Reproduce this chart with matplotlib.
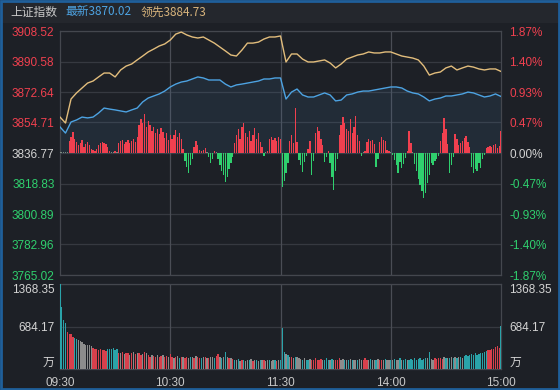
import numpy as np
import matplotlib
matplotlib.use('Agg')
import matplotlib.pyplot as plt
from matplotlib.patches import Rectangle

plt.rcParams['font.family'] = ['Liberation Sans', 'Noto Sans CJK SC', 'DejaVu Sans']

# ---------------- data ----------------
pre_close = 3836.77
price_ticks = [3908.52, 3890.58, 3872.64, 3854.71, 3836.77, 3818.83, 3800.89, 3782.96, 3765.02]
pct_labels = ['1.87%', '1.40%', '0.93%', '0.47%', '0.00%', '-0.47%', '-0.93%', '-1.40%', '-1.87%']
time_ticks = [0, 60, 120, 180, 240]
time_labels = ['09:30', '10:30', '11:30', '14:00', '15:00']

line_minutes = list(range(0, 241, 3))
latest = [3852.1, 3848.5, 3855.0, 3856.2, 3857.9, 3857.4, 3857.9, 3860.3, 3863.2, 3862.6,
          3862.1, 3861.5, 3860.9, 3862.1, 3863.2, 3866.8, 3869.1, 3870.3, 3871.5, 3873.2,
          3875.6, 3877.3, 3878.5, 3879.1, 3880.3, 3881.5, 3880.9, 3879.7, 3879.7, 3879.7,
          3877.3, 3875.6, 3876.8, 3877.3, 3877.9, 3878.5, 3879.1, 3880.3, 3880.3, 3880.9,
          3880.9, 3868.5, 3872.6, 3874.4, 3870.9, 3869.7, 3869.7, 3870.9, 3872.1, 3870.9,
          3867.4, 3867.9, 3870.9, 3871.5, 3872.6, 3873.2, 3873.2, 3873.8, 3874.4, 3875.0,
          3875.6, 3875.6, 3875.0, 3873.2, 3872.1, 3871.5, 3869.7, 3867.4, 3868.5, 3869.1,
          3870.3, 3870.3, 3870.9, 3871.5, 3872.6, 3872.1, 3870.9, 3869.7, 3870.3, 3871.5,
          3870.02]
leading = [3857.9, 3854.4, 3868.5, 3872.1, 3875.0, 3877.9, 3879.1, 3881.5, 3883.8, 3883.8,
           3881.5, 3885.6, 3887.9, 3889.1, 3891.5, 3893.8, 3896.2, 3897.9, 3899.7, 3900.9,
           3903.2, 3906.7, 3907.9, 3906.2, 3905.0, 3904.4, 3905.0, 3903.2, 3901.4, 3899.1,
           3896.8, 3894.4, 3893.8, 3897.3, 3901.4, 3901.4, 3902.0, 3903.8, 3905.0, 3905.0,
           3905.6, 3890.3, 3895.0, 3895.0, 3892.0, 3890.3, 3890.3, 3890.9, 3891.5, 3889.7,
           3886.8, 3889.1, 3892.0, 3893.2, 3894.4, 3895.0, 3896.2, 3895.6, 3895.6, 3896.2,
           3896.2, 3895.0, 3893.8, 3893.2, 3892.6, 3891.5, 3887.9, 3882.6, 3883.8, 3884.4,
           3886.8, 3887.9, 3885.6, 3886.8, 3887.9, 3887.3, 3886.2, 3885.6, 3886.2, 3886.2,
           3884.73]

# per-minute net breadth bars (red up / green down), arbitrary units
breadth = [1, 1, 1, 1, 1, 12, 16, 21, 14, 11,
           8, 10, 13, 6, 9, 11, 8, 4, 3, 2,
           4, 8, 10, 11, 10, 9, 6, 2, 1, 1,
           2, 1, 10, 12, 13, 9, 11, 13, 10, 12,
           14, 11, 16, 28, 34, 30, 39, 26, 32, 28,
           22, 26, 20, 24, 19, 25, 21, 15, 20, 13,
           18, 14, 18, 23, 16, 20, 14, 4, -8, -14,
           -20, -12, -6, 6, 12, 8, 3, 2, 3, 5,
           1, -4, -10, -6, 2, 1, -6, -12, -18, -22,
           -29, -24, -16, -10, -4, 10, 18, 24, 14, 26,
           30, 20, 16, 22, 12, 18, 25, 14, 20, 11,
           6, -3, 1, 2, 14, 16, 13, 15, 12, 16,
           14, -34, -28, -20, -10, 12, 18, 10, 45, 11,
           -7, -12, -19, -9, -3, 4, 12, -22, -8, 20,
           26, 22, 14, 8, -9, -4, 2, -10, -24, -37,
           -18, -6, 18, 28, 36, 30, 24, 22, 34, 20,
           26, 37, 18, 12, -3, 1, 2, 11, 14, 12,
           13, 9, -14, -6, 11, 16, 13, 12, 3, 2,
           1, -2, -7, -12, -20, -9, -15, -11, -5, 2,
           22, 10, 1, -11, -18, -26, -32, -38, -45, -40,
           -30, -22, -10, -12, -8, -6, -3, 12, 20, 35,
           24, 9, -20, -12, -4, 19, 14, 8, 10, 12,
           15, 17, 11, 6, -14, -20, -16, -18, -10, -15,
           -6, -2, 5, 6, 7, 6, 8, 9, 5, 7,
           22]

# per-minute volume (万)
volume = [1368, 1000, 790, 740, 600, 560, 560, 520, 500, 480,
          470, 450, 440, 400, 390, 380, 390, 370, 340, 330,
          320, 310, 320, 300, 310, 290, 320, 330, 320, 340,
          310, 330, 260, 250, 270, 240, 260, 250, 230, 260,
          270, 240, 250, 260, 230, 240, 280, 250, 220, 200,
          230, 210, 200, 220, 190, 210, 230, 200, 210, 190,
          240, 200, 180, 190, 210, 170, 190, 200, 180, 190,
          170, 200, 190, 180, 210, 190, 170, 180, 200, 190,
          180, 170, 190, 200, 180, 210, 240, 190, 180, 200,
          270, 190, 180, 170, 160, 150, 140, 160, 130, 150,
          140, 130, 150, 140, 160, 130, 140, 150, 130, 140,
          150, 140, 130, 150, 140, 130, 140, 150, 130, 140,
          150, 660, 270, 240, 220, 200, 190, 180, 190, 200,
          180, 160, 150, 170, 140, 150, 160, 140, 150, 170,
          150, 140, 160, 150, 140, 170, 150, 140, 160, 150,
          140, 150, 170, 140, 160, 150, 140, 150, 160, 140,
          150, 140, 150, 160, 140, 150, 170, 140, 150, 160,
          150, 140, 150, 160, 140, 150, 140, 160, 150, 140,
          150, 150, 160, 140, 150, 170, 140, 150, 160, 150,
          140, 160, 150, 170, 150, 160, 180, 150, 160, 170,
          180, 270, 160, 150, 170, 160, 180, 170, 160, 190,
          170, 180, 170, 190, 180, 200, 170, 190, 200, 180,
          210, 220, 210, 230, 240, 220, 250, 230, 240, 260,
          250, 270, 290, 310, 300, 330, 320, 350, 370, 340,
          700]
# r = up minute, t = down minute, g = flat minute
vol_dir = ("tttt" "rrrr" "ttggg" "ggggg" "rrrrrrrr" "tttttt"
           "rgrgrrgrgrgrrgrg" "rrgrrgrrgrrgr"
           "rgrgtrgrrgtgrgrrtgrgrggtrrgtgtgrgr"
           "tgtgrtggtgrgtgtgrggtggtrgt"
           "ttgtgrgtgg"
           "gtgttgrrrrrrgtttgtgrrrggtgtgtg"
           "gtggrrrgtggtgrrgtggtgtggtgttgttttttttttg"
           "tggrrrrrgtgtgtgtgtgt"
           "tttttttttttt" "rrrrrrr" "t")
vol_ticks = [1368.35, 684.17, 0]
vol_labels = ['1368.35', '684.17', '万']

# ---------------- style ----------------
BG = '#1d2026'
GRID = '#363940'
VGRID = '#4a4d55'
RED = '#f0404f'
GREEN = '#2fd06e'
WHITE = '#d4d4d4'
BLUE = '#4da3e2'
GOLD = '#e2bd7c'
VRED = '#d8404c'
VTEAL = '#2aa3a9'
VGREY = '#8c8c8c'

W, H = 560, 390
fig = plt.figure(figsize=(5.6, 3.9), dpi=100, facecolor=BG)

def rect(l, t, r, b):
    return [l / W, 1 - b / H, (r - l) / W, (b - t) / H]

# header band
fig.patches.append(Rectangle((0, 1 - 23 / H), 1, 23 / H, transform=fig.transFigure,
                             facecolor='#24272d', edgecolor='none', zorder=0))
# blue frame
fig.patches.append(Rectangle((0.001, 0.002), 0.997, 0.996, transform=fig.transFigure,
                             facecolor='none', edgecolor='#1f5f9a', lw=2.0, zorder=5))

cjk = ['Noto Sans CJK SC', 'DejaVu Sans']
fig.text(10 / W, 1 - 12 / H, '上证指数', color='#c9c9c9', fontsize=8.5, family=cjk, va='center')
fig.text(65 / W, 1 - 12 / H, '最新3870.02', color=BLUE, fontsize=8.5, family=cjk, va='center')
fig.text(141 / W, 1 - 12 / H, '领先3884.73', color='#d8b47c', fontsize=8.5, family=cjk, va='center')

main_rect = rect(60, 31, 501, 275)
ax = fig.add_axes(main_rect, facecolor=BG)
ax.set_xlim(0, 240)
ax.set_ylim(price_ticks[-1], price_ticks[0])
ax.set_yticks(price_ticks)
ax.set_yticklabels(['%.2f' % v for v in price_ticks])
ax.set_xticks([])
for t in price_ticks:
    ax.axhline(t, color=GRID, lw=0.9, zorder=1)
for m in time_ticks[1:4]:
    ax.axvline(m, color=VGRID, lw=0.9, zorder=1)
ax.fill_between(line_minutes, latest, pre_close, color='#4a7fb0', alpha=0.13, lw=0, zorder=2)
for s in ax.spines.values():
    s.set_color('#44474e')
    s.set_linewidth(0.9)
ax.tick_params(axis='y', length=0, pad=4, labelsize=8.5)
for lab, v in zip(ax.get_yticklabels(), price_ticks):
    lab.set_color(RED if v > pre_close else (GREEN if v < pre_close else WHITE))

axr = ax.twinx()
axr.set_ylim(ax.get_ylim())
axr.set_yticks(price_ticks)
axr.set_yticklabels(pct_labels)
axr.tick_params(axis='y', length=0, pad=6, labelsize=8.5)
for lab, v in zip(axr.get_yticklabels(), price_ticks):
    lab.set_color(RED if v > pre_close else (GREEN if v < pre_close else WHITE))
for s in axr.spines.values():
    s.set_visible(False)

# breadth bars
axb = fig.add_axes(main_rect, facecolor='none')
axb.set_xlim(0, 240)
axb.set_ylim(-122, 122)
minutes = np.arange(len(breadth))
bvals = np.array(breadth)
bcols = [RED if v > 1 else (GREEN if v < 0 else '#7a8a80') for v in bvals]
axb.bar(minutes, bvals, width=0.72, color=bcols, lw=0, zorder=3)
axb.axis('off')

# lines
axl = fig.add_axes(main_rect, facecolor='none')
axl.set_xlim(0, 240)
axl.set_ylim(price_ticks[-1], price_ticks[0])
axl.plot(line_minutes, leading, color=GOLD, lw=1.0, zorder=4)
axl.plot(line_minutes, latest, color=BLUE, lw=1.0, zorder=4)
axl.axis('off')

# volume panel
axv = fig.add_axes(rect(60, 284, 501, 369), facecolor=BG)
axv.set_xlim(0, 240)
axv.set_ylim(0, vol_ticks[0])
vm = np.arange(len(volume))
vcols = [{'r': VRED, 't': VTEAL, 'g': VGREY}[c] for c in vol_dir]
axv.bar(vm, volume, width=0.72, color=vcols, lw=0, zorder=3)
for t in vol_ticks[:2]:
    axv.axhline(t, color=GRID, lw=0.9, zorder=1)
for m in time_ticks[1:4]:
    axv.axvline(m, color=VGRID, lw=0.9, zorder=1)
for s in axv.spines.values():
    s.set_color('#44474e')
    s.set_linewidth(0.9)
axv.set_yticks(vol_ticks)
axv.set_yticklabels(vol_labels, family=['Liberation Sans', 'Noto Sans CJK SC'])
axv.tick_params(axis='y', length=0, pad=4, labelsize=8.5, colors=WHITE)
labs = axv.get_yticklabels()
labs[0].set_va('top')
labs[2].set_va('bottom')
axv.set_xticks(time_ticks)
axv.set_xticklabels(time_labels)
axv.tick_params(axis='x', length=0, pad=6, labelsize=8.5, colors='#c9c9c9')

axvr = axv.twinx()
axvr.set_ylim(axv.get_ylim())
axvr.set_yticks(vol_ticks)
axvr.set_yticklabels(vol_labels, family=['Liberation Sans', 'Noto Sans CJK SC'])
axvr.tick_params(axis='y', length=0, pad=6, labelsize=8.5, colors=WHITE)
rl = axvr.get_yticklabels()
rl[0].set_va('top')
rl[2].set_va('bottom')
for s in axvr.spines.values():
    s.set_visible(False)

fig.savefig('out.png', dpi=100, facecolor=BG)
